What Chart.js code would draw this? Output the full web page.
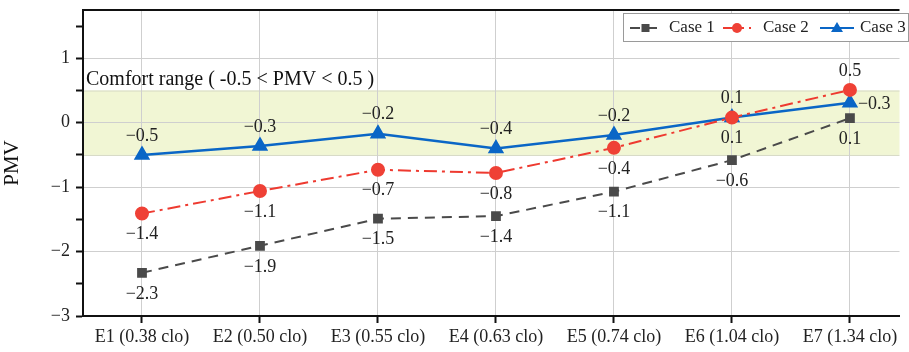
<!DOCTYPE html>
<html>
<head>
<meta charset="utf-8">
<script src="https://cdn.jsdelivr.net/npm/chart.js@4/dist/chart.umd.min.js"></script>
<style>
  html, body { margin: 0; padding: 0; background: #fff; }
  #wrap { width: 909px; height: 352px; }
</style>
</head>
<body>
<div id="wrap"><canvas id="pmvChart"></canvas></div>
<script>
const categories = ["E1 (0.38 clo)", "E2 (0.50 clo)", "E3 (0.55 clo)", "E4 (0.63 clo)", "E5 (0.74 clo)", "E6 (1.04 clo)", "E7 (1.34 clo)"];
const case1 = [-2.33, -1.91, -1.49, -1.45, -1.07, -0.58, 0.07];
const case2 = [-1.41, -1.06, -0.73, -0.78, -0.39, 0.08, 0.51];
const case3 = [-0.5, -0.36, -0.17, -0.4, -0.19, 0.08, 0.31];
const case1Text = ["−2.3", "−1.9", "−1.5", "−1.4", "−1.1", "−0.6", "0.1"];
const case2Text = ["−1.4", "−1.1", "−0.7", "−0.8", "−0.4", "0.1", "0.5"];
const case3Text = ["−0.5", "−0.3", "−0.2", "−0.4", "−0.2", "0.1", "−0.3"];
const comfortLow = -0.5;
const comfortHigh = 0.5;
const comfortText = "Comfort range ( -0.5 < PMV < 0.5 )";

const SERIF = "'Liberation Serif', 'DejaVu Serif', serif";

function toPoints(arr) {
  return arr.map((v, i) => ({ x: i, y: v }));
}

// comfort band, top frame line, value labels and legend
const extras = {
  id: "extras",
  beforeDraw(chart) {
    const { ctx, chartArea, scales } = chart;
    const y1 = scales.y.getPixelForValue(comfortHigh);
    const y2 = scales.y.getPixelForValue(comfortLow);
    ctx.save();
    ctx.fillStyle = "#f1f6d4";
    ctx.fillRect(chartArea.left, y1, chartArea.right - chartArea.left, y2 - y1);
    ctx.strokeStyle = "#d6d9c4";
    ctx.lineWidth = 1;
    ctx.beginPath();
    ctx.moveTo(chartArea.left, y1 + 0.5);
    ctx.lineTo(chartArea.right, y1 + 0.5);
    ctx.moveTo(chartArea.left, y2 + 0.5);
    ctx.lineTo(chartArea.right, y2 + 0.5);
    ctx.stroke();
    ctx.restore();
  },
  afterDraw(chart) {
    const { ctx, chartArea, scales } = chart;
    ctx.save();
    // top frame
    ctx.strokeStyle = "#111";
    ctx.lineWidth = 2;
    ctx.beginPath();
    ctx.moveTo(chartArea.left - 1, chartArea.top);
    ctx.lineTo(chartArea.right, chartArea.top);
    ctx.stroke();

    // comfort text
    ctx.fillStyle = "#111";
    ctx.font = "20px " + SERIF;
    ctx.textAlign = "left";
    ctx.textBaseline = "alphabetic";
    ctx.fillText(comfortText, chartArea.left + 3, scales.y.getPixelForValue(comfortHigh) - 6);

    // value labels
    ctx.font = "18px " + SERIF;
    ctx.fillStyle = "#222";
    chart.data.datasets.forEach((ds, di) => {
      const meta = chart.getDatasetMeta(di);
      meta.data.forEach((pt, i) => {
        const pos = ds.labelPos[i];
        const txt = ds.labelText[i];
        ctx.textBaseline = "middle";
        if (pos === "above") {
          ctx.textAlign = "center";
          ctx.fillText(txt, pt.x, pt.y - 19);
        } else if (pos === "below") {
          ctx.textAlign = "center";
          ctx.fillText(txt, pt.x, pt.y + 21);
        } else {
          ctx.textAlign = "left";
          ctx.fillText(txt, pt.x + 8, pt.y + 1);
        }
      });
    });

    // legend
    const lx = 623, ly = 13, lw = 285, lh = 28;
    ctx.fillStyle = "#fff";
    ctx.fillRect(lx, ly, lw, lh);
    ctx.strokeStyle = "#9a9a9a";
    ctx.lineWidth = 1;
    ctx.strokeRect(lx + 0.5, ly + 0.5, lw, lh);
    const items = [
      { ds: 0, x0: 630, x1: 661, tx: 669 },
      { ds: 1, x0: 723, x1: 751, tx: 763 },
      { ds: 2, x0: 820, x1: 854, tx: 860 }
    ];
    const cy = ly + lh / 2 + 1;
    items.forEach(it => {
      const ds = chart.data.datasets[it.ds];
      ctx.strokeStyle = ds.borderColor;
      ctx.lineWidth = 2;
      ctx.setLineDash(ds.borderDash || []);
      ctx.beginPath();
      ctx.moveTo(it.x0, cy);
      ctx.lineTo(it.x1, cy);
      ctx.stroke();
      ctx.setLineDash([]);
      const mx = (it.x0 + it.x1) / 2;
      ctx.fillStyle = ds.pointBackgroundColor;
      if (ds.pointStyle === "rect") {
        ctx.fillRect(mx - 4, cy - 4, 8, 8);
      } else if (ds.pointStyle === "circle") {
        ctx.beginPath();
        ctx.arc(mx, cy, 5, 0, Math.PI * 2);
        ctx.fill();
      } else {
        ctx.beginPath();
        ctx.moveTo(mx, cy - 6);
        ctx.lineTo(mx + 6, cy + 4);
        ctx.lineTo(mx - 6, cy + 4);
        ctx.closePath();
        ctx.fill();
      }
      ctx.fillStyle = "#222";
      ctx.font = "17px " + SERIF;
      ctx.textAlign = "left";
      ctx.textBaseline = "middle";
      ctx.fillText(ds.label, it.tx, cy);
    });
    ctx.restore();
  }
};

const ctx = document.getElementById("pmvChart").getContext("2d");
new Chart(ctx, {
  type: "line",
  data: {
    datasets: [
      {
        label: "Case 1",
        data: toPoints(case1),
        labelText: case1Text,
        labelPos: ["below", "below", "below", "below", "below", "below", "below"],
        borderColor: "#4a4a4a",
        backgroundColor: "#4a4a4a",
        pointBackgroundColor: "#4a4a4a",
        pointBorderColor: "#4a4a4a",
        borderDash: [10, 7],
        borderWidth: 2,
        pointStyle: "rect",
        pointRadius: 5.5,
        tension: 0
      },
      {
        label: "Case 2",
        data: toPoints(case2),
        labelText: case2Text,
        labelPos: ["below", "below", "below", "below", "below", "below", "above"],
        borderColor: "#ee3a30",
        backgroundColor: "#ef4136",
        pointBackgroundColor: "#ef4136",
        pointBorderColor: "#ef4136",
        borderDash: [13, 5, 3, 5],
        borderWidth: 2,
        pointStyle: "circle",
        pointRadius: 6,
        tension: 0
      },
      {
        label: "Case 3",
        data: toPoints(case3),
        labelText: case3Text,
        labelPos: ["above", "above", "above", "above", "above", "above", "right"],
        borderColor: "#0a66c6",
        backgroundColor: "#0a66c6",
        pointBackgroundColor: "#0a66c6",
        pointBorderColor: "#0a66c6",
        borderWidth: 2.5,
        pointStyle: "triangle",
        pointRadius: 7,
        tension: 0
      }
    ]
  },
  options: {
    responsive: true,
    maintainAspectRatio: false,
    animation: false,
    layout: { padding: { top: 10, right: 0, left: 0, bottom: 0 } },
    plugins: {
      legend: { display: false },
      tooltip: { enabled: false }
    },
    scales: {
      x: {
        type: "linear",
        min: -0.5,
        max: 6.42,
        afterBuildTicks(scale) {
          scale.ticks = categories.map((_, i) => ({ value: i }));
        },
        afterFit(scale) {
          scale.height = 36;
          scale.paddingLeft = 0;
          scale.paddingRight = 0;
        },
        ticks: {
          autoSkip: false,
          maxRotation: 0,
          padding: 3,
          color: "#222",
          font: { family: SERIF, size: 18 },
          callback: (v) => categories[v] || ""
        },
        grid: {
          color: "#cfcfcf",
          lineWidth: 1,
          drawTicks: true,
          tickLength: 7,
          tickColor: "#111",
          tickWidth: 2
        },
        border: { color: "#111", width: 2 }
      },
      y: {
        min: -3,
        max: 1.75,
        afterBuildTicks(scale) {
          const t = [];
          for (let v = -3; v <= 1.5; v += 0.5) t.push({ value: v });
          scale.ticks = t;
        },
        afterFit(scale) {
          scale.width = 83;
          scale.paddingTop = 0;
          scale.paddingBottom = 0;
        },
        title: {
          display: true,
          text: "PMV",
          color: "#111",
          font: { family: SERIF, size: 21 },
          padding: { top: 0, bottom: 2 }
        },
        ticks: {
          padding: 6,
          color: "#222",
          font: { family: SERIF, size: 18 },
          callback: (v) => (Number.isInteger(v) ? (v < 0 ? "−" + Math.abs(v) : String(v)) : "")
        },
        grid: {
          color: (c) => (Number.isInteger(c.tick && c.tick.value) ? "#cfcfcf" : "rgba(0,0,0,0)"),
          lineWidth: 1,
          drawTicks: true,
          tickLength: 7,
          tickColor: "#111",
          tickWidth: 2
        },
        border: { color: "#111", width: 2 }
      }
    }
  },
  plugins: [extras]
});
</script>
</body>
</html>
